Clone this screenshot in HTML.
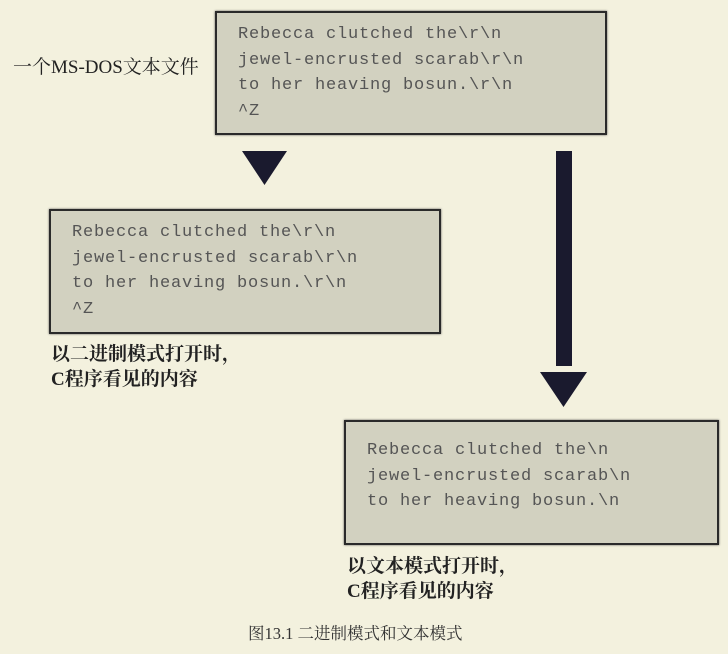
<!DOCTYPE html>
<html><head><meta charset="utf-8"><style>
body{margin:0;width:728px;height:654px;background:#f3f1de;position:relative;overflow:hidden}
.box{position:absolute;background:#d2d1c0;border:2px solid #2a2a2a;box-shadow:0 0 2px #555;box-sizing:border-box}
.mono{position:absolute;font-family:"Liberation Mono",monospace;font-size:17px;line-height:25.5px;color:#555;white-space:pre;letter-spacing:0.8px}
.lab{position:absolute;font-family:"Liberation Serif","Noto Serif CJK SC",serif;font-size:19px;color:#222;line-height:25px;font-weight:bold}
</style></head><body>
<div class="box" style="left:215px;top:11px;width:392px;height:124px"></div>
<div class="mono" style="left:238px;top:22px">Rebecca clutched the\r\n
jewel-encrusted scarab\r\n
to her heaving bosun.\r\n
^Z</div>
<div class="box" style="left:49px;top:209px;width:392px;height:125px"></div>
<div class="mono" style="left:72px;top:220px">Rebecca clutched the\r\n
jewel-encrusted scarab\r\n
to her heaving bosun.\r\n
^Z</div>
<div class="box" style="left:344px;top:420px;width:375px;height:125px"></div>
<div class="mono" style="left:367px;top:438px">Rebecca clutched the\n
jewel-encrusted scarab\n
to her heaving bosun.\n</div>
<svg style="position:absolute;left:0;top:0" width="728" height="654">
<polygon points="242,151 287,151 264.5,185" fill="#1a1a2e"/>
<rect x="556" y="151" width="16" height="215" fill="#1a1a2e"/>
<polygon points="540,372 587,372 563.5,407" fill="#1a1a2e"/>
</svg>
<div class="lab" style="left:13px;top:55px;font-weight:normal">一个MS-DOS文本文件</div>
<div class="lab" style="left:51px;top:342px">以二进制模式打开时，<br>C程序看见的内容</div>
<div class="lab" style="left:347px;top:554px">以文本模式打开时，<br>C程序看见的内容</div>
<div class="lab" style="left:248px;top:621px;font-size:16.5px;font-weight:normal;color:#333">图13.1 二进制模式和文本模式</div>
</body></html>
